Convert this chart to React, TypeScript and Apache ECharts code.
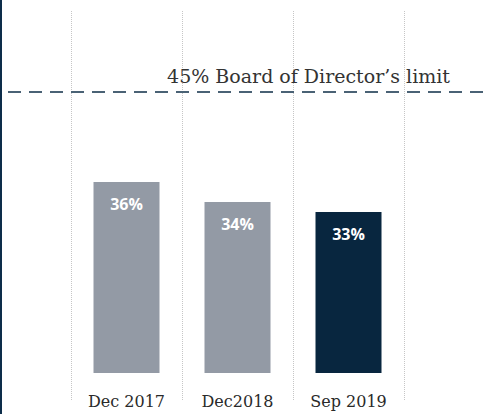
import React, { useEffect, useRef } from "react";
import * as echarts from "echarts";

const categories = ["Dec 2017", "Dec2018", "Sep 2019"];
const ratioValues = [36, 34, 33];
const limitValue = 45;
const limitLabel = "45% Board of Director’s limit";
const barColors = ["#939aa5", "#939aa5", "#08263f"];

export default function App() {
  const ref = useRef<HTMLDivElement>(null);
  useEffect(() => {
    document.body.style.margin = "0";
    if (!ref.current) return;
    const chart = echarts.init(ref.current, null, { renderer: "svg" });
    const dotted = { color: "#c6c6c6", type: "dotted" as const, width: 1 };
    chart.setOption({
      animation: false,
      backgroundColor: "#ffffff",
      grid: { left: 71, right: 81, top: 11, bottom: 41 },
      graphic: [
        {
          type: "rect",
          left: 0,
          top: 0,
          shape: { x: 0, y: 0, width: 2, height: 414 },
          style: { fill: "#0d2d4a" },
          silent: true,
        },
      ],
      xAxis: {
        type: "category",
        data: categories,
        boundaryGap: true,
        axisLine: { show: false },
        axisTick: { show: true, length: 28, lineStyle: dotted },
        splitLine: { show: true, lineStyle: dotted },
        axisLabel: {
          fontFamily: "DejaVu Serif",
          fontSize: 16,
          color: "#2a2a2a",
          margin: 20,
        },
      },
      yAxis: {
        type: "value",
        min: 17,
        max: 53,
        show: false,
        splitLine: { show: false },
      },
      series: [
        {
          type: "bar",
          barWidth: 66,
          data: ratioValues.map((v, i) => ({
            value: v,
            itemStyle: { color: barColors[i] },
          })),
          label: {
            show: true,
            position: "insideTop",
            distance: 14,
            formatter: "{c}%",
            color: "#ffffff",
            fontFamily: "Open Sans",
            fontWeight: "bold",
            fontSize: 16,
          },
          markLine: {
            silent: true,
            symbol: ["none", "none"],
            lineStyle: {
              color: "#4a6275",
              width: 2,
              type: [13, 8],
              dashOffset: 13,
            },
            label: {
              show: true,
              position: "insideEndTop",
              distance: [35, 6],
              formatter: limitLabel,
              fontFamily: "DejaVu Serif",
              fontSize: 19,
              color: "#333333",
            },
            emphasis: { disabled: true },
            data: [[{ x: 0, yAxis: limitValue }, { x: 485, yAxis: limitValue }]],
          },
        },
      ],
    });
    return () => chart.dispose();
  }, []);
  return <div ref={ref} style={{ width: 485, height: 414 }} />;
}
